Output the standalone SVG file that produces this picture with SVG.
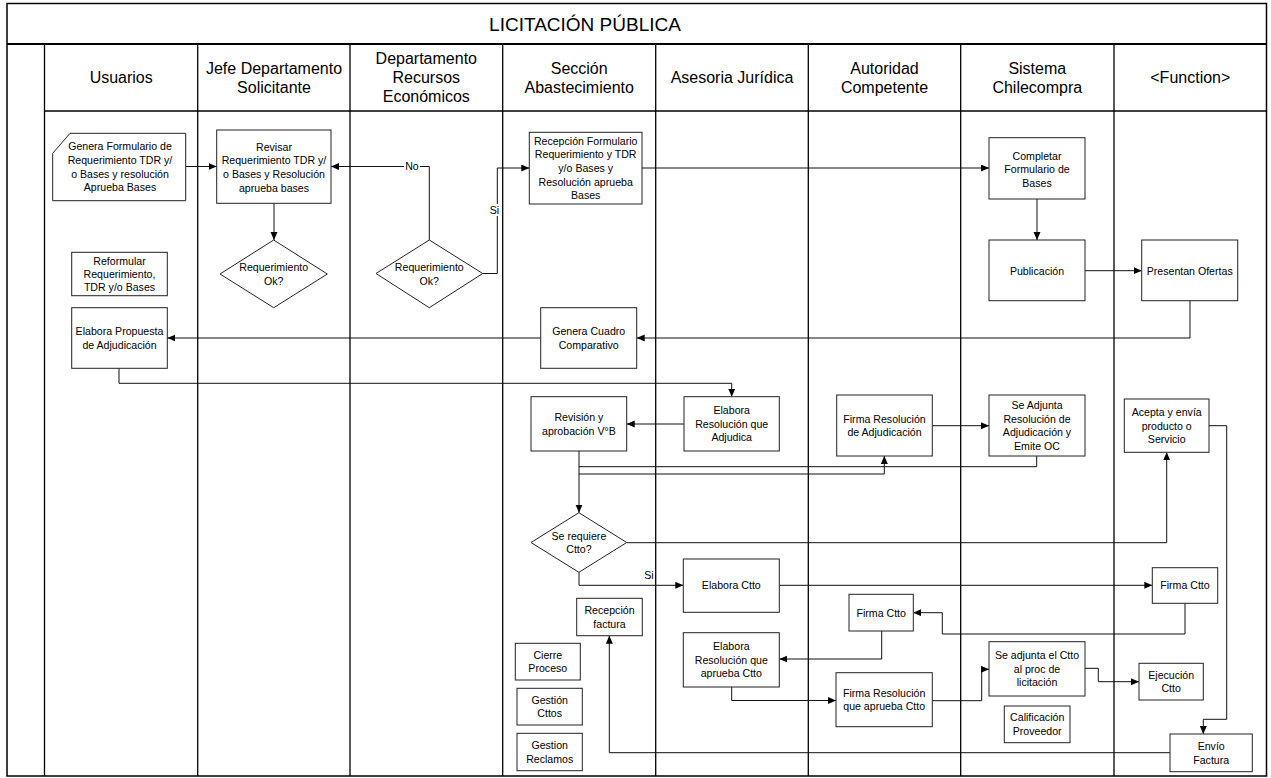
<svg xmlns="http://www.w3.org/2000/svg" width="1271" height="778" viewBox="0 0 1271 778">
<style>
text{font-family:"Liberation Sans",Arial,sans-serif;fill:#000}
.title{font-size:19px;text-anchor:middle}
.hdr{font-size:16px;text-anchor:middle}
.t{font-size:10.6px;text-anchor:middle}
.box{fill:#fff;stroke:#222;stroke-width:1}
.lane{stroke:#000;stroke-width:1.3;fill:none}
.c{fill:none;stroke:#111;stroke-width:1}
.ca{fill:none;stroke:#111;stroke-width:1;marker-end:url(#ah)}
.lbl{font-size:10.6px;text-anchor:middle}
</style>
<defs>
<marker id="ah" markerWidth="9" markerHeight="8" refX="8" refY="3.5" orient="auto" markerUnits="userSpaceOnUse">
<path d="M0,0 L8,3.5 L0,7 z" fill="#000"/>
</marker>
</defs>
<rect x="0" y="0" width="1271" height="778" fill="#fff"/>
<g id="frame">
<rect x="7" y="3.5" width="1259.5" height="772.5" fill="none" stroke="#000" stroke-width="1.5"/>
<line x1="7" y1="44" x2="1266.5" y2="44" stroke="#000" stroke-width="2.2"/>
<line class="lane" x1="44.5" y1="111" x2="1266.5" y2="111"/>
<line class="lane" x1="44.5" y1="44" x2="44.5" y2="776"/>
<line class="lane" x1="197.7" y1="44" x2="197.7" y2="776"/>
<line class="lane" x1="350" y1="44" x2="350" y2="776"/>
<line class="lane" x1="502.7" y1="44" x2="502.7" y2="776"/>
<line class="lane" x1="655.7" y1="44" x2="655.7" y2="776"/>
<line class="lane" x1="808.3" y1="44" x2="808.3" y2="776"/>
<line class="lane" x1="960.7" y1="44" x2="960.7" y2="776"/>
<line class="lane" x1="1114" y1="44" x2="1114" y2="776"/>
<text class="title" x="585" y="31">LICITACIÓN PÚBLICA</text>
<text class="hdr" x="121.2" y="83">Usuarios</text>
<text class="hdr" x="274" y="74">Jefe Departamento</text>
<text class="hdr" x="274" y="93">Solicitante</text>
<text class="hdr" x="426.3" y="64">Departamento</text>
<text class="hdr" x="426.3" y="83">Recursos</text>
<text class="hdr" x="426.3" y="102">Económicos</text>
<text class="hdr" x="579.2" y="74">Sección</text>
<text class="hdr" x="579.2" y="93">Abastecimiento</text>
<text class="hdr" x="732" y="83">Asesoria Jurídica</text>
<text class="hdr" x="884.5" y="74">Autoridad</text>
<text class="hdr" x="884.5" y="93">Competente</text>
<text class="hdr" x="1037.3" y="74">Sistema</text>
<text class="hdr" x="1037.3" y="93">Chilecompra</text>
<text class="hdr" x="1190.3" y="83">&lt;Function&gt;</text>
</g>
<g id="connectors">
<path class="ca" d="M185.7,166.5 H216.7"/>
<path class="ca" d="M429.3,240 V166.5 H331"/>
<path class="ca" d="M274,203.3 V240"/>
<path class="ca" d="M482.7,273.5 H497.3 V168 H529.3"/>
<path class="ca" d="M642,168 H989"/>
<path class="ca" d="M1037,199 V240"/>
<path class="ca" d="M1085,270.7 H1141.7"/>
<path class="ca" d="M1190,300.7 V338 H636.7"/>
<path class="ca" d="M540.7,338 H167.3"/>
<path class="ca" d="M119,368.3 V383.3 H731.7 V396.7"/>
<path class="ca" d="M684,424 H626.7"/>
<path class="ca" d="M579,451 V512.7"/>
<path class="ca" d="M579,474 H884.3 V456"/>
<path class="c" d="M1036.7,456 V466.7 H579"/>
<path class="ca" d="M932.3,425.7 H989"/>
<path class="ca" d="M626.7,542.7 H1166.7 V452.3"/>
<path class="ca" d="M579,572.3 V585.3 H683.3"/>
<path class="ca" d="M779.3,585.3 H1152.3"/>
<path class="ca" d="M1185,603.3 V634 H942.3 V612.7 H913.3"/>
<path class="ca" d="M881.7,631 V659 H779.3"/>
<path class="ca" d="M731.7,687 V700.5 H836"/>
<path class="ca" d="M932.3,700.7 H981.7 V669.3 H989"/>
<path class="ca" d="M1085,668.3 H1098.3 V681.7 H1139"/>
<path class="ca" d="M1209,425.7 H1226.7 V719.3 H1203.3 V734"/>
<path class="ca" d="M1170,752.7 H609.3 V635.7"/>
<rect x="404" y="161" width="16" height="11" fill="#fff"/>
<text class="lbl" x="412" y="170.3">No</text>
<rect x="490" y="204" width="10" height="12" fill="#fff"/>
<text class="lbl" x="494.5" y="214">Si</text>
<text class="lbl" x="649" y="579">Si</text>
</g>
<g id="n-genera">
<path class="box" d="M70,133.3 H185.7 V200.7 H52.7 V153.3 Z"/>
<text class="t" x="120" y="150.3">Genera Formulario de</text>
<text class="t" x="120" y="164">Requerimiento TDR y/</text>
<text class="t" x="120" y="177.6">o Bases y resolución</text>
<text class="t" x="120" y="191.3">Aprueba Bases</text>
</g>
<g id="n-revisar">
<rect class="box" x="216.7" y="130" width="114.3" height="73.3"/>
<text class="t" x="274" y="150.5">Revisar</text>
<text class="t" x="274" y="164.2">Requerimiento TDR y/</text>
<text class="t" x="274" y="177.8">o Bases y Resolución</text>
<text class="t" x="274" y="191.5">aprueba bases</text>
</g>
<g id="n-dec-jefe">
<path class="box" d="M273.7,240 L327.3,274 L273.7,307.7 L220,274 Z"/>
<text class="t" x="273.7" y="271.1">Requerimiento</text>
<text class="t" x="273.7" y="285.1">Ok?</text>
</g>
<g id="n-dec-depto">
<path class="box" d="M429.3,240 L482.7,273.5 L429.3,307.7 L376,273.5 Z"/>
<text class="t" x="429.3" y="271.1">Requerimiento</text>
<text class="t" x="429.3" y="285.1">Ok?</text>
</g>
<g id="n-recepcion-form">
<rect class="box" x="529.3" y="132.3" width="112.7" height="71.7"/>
<text class="t" x="585.7" y="144.5">Recepción Formulario</text>
<text class="t" x="585.7" y="158.2">Requerimiento y TDR</text>
<text class="t" x="585.7" y="171.9">y/o Bases y</text>
<text class="t" x="585.7" y="185.6">Resolución aprueba</text>
<text class="t" x="585.7" y="199.3">Bases</text>
</g>
<g id="n-completar">
<rect class="box" x="989" y="137.7" width="96" height="61.3"/>
<text class="t" x="1037" y="159.5">Completar</text>
<text class="t" x="1037" y="173.2">Formulario de</text>
<text class="t" x="1037" y="186.9">Bases</text>
</g>
<g id="n-publicacion">
<rect class="box" x="989" y="240" width="96" height="60.7"/>
<text class="t" x="1037" y="274.5">Publicación</text>
</g>
<g id="n-presentan">
<rect class="box" x="1141.7" y="240" width="96" height="60.7"/>
<text class="t" x="1189.7" y="274.5">Presentan Ofertas</text>
</g>
<g id="n-reformular">
<rect class="box" x="71.7" y="252.3" width="95.6" height="43.4"/>
<text class="t" x="119.5" y="264.5">Reformular</text>
<text class="t" x="119.5" y="277.8">Requerimiento,</text>
<text class="t" x="119.5" y="291.1">TDR y/o Bases</text>
</g>
<g id="n-propuesta">
<rect class="box" x="71.7" y="307.7" width="95.6" height="60.6"/>
<text class="t" x="119.5" y="335">Elabora Propuesta</text>
<text class="t" x="119.5" y="348.6">de Adjudicación</text>
</g>
<g id="n-cuadro">
<rect class="box" x="540.7" y="307.7" width="96" height="60.6"/>
<text class="t" x="588.7" y="335">Genera Cuadro</text>
<text class="t" x="588.7" y="348.6">Comparativo</text>
</g>
<g id="n-res-adjudica">
<rect class="box" x="684" y="396.7" width="95.3" height="54.3"/>
<text class="t" x="731.7" y="414">Elabora</text>
<text class="t" x="731.7" y="427.7">Resolución que</text>
<text class="t" x="731.7" y="441.4">Adjudica</text>
</g>
<g id="n-revision">
<rect class="box" x="531" y="396.7" width="95.7" height="54.3"/>
<text class="t" x="578.9" y="420.8">Revisión y</text>
<text class="t" x="578.9" y="434.5">aprobación V°B</text>
</g>
<g id="n-firma-res-adj">
<rect class="box" x="836.7" y="395" width="95.6" height="61"/>
<text class="t" x="884.5" y="422.5">Firma Resolución</text>
<text class="t" x="884.5" y="436.1">de Adjudicación</text>
</g>
<g id="n-se-adjunta">
<rect class="box" x="989" y="395" width="96" height="61"/>
<text class="t" x="1037" y="408.8">Se Adjunta</text>
<text class="t" x="1037" y="422.5">Resolución de</text>
<text class="t" x="1037" y="436.1">Adjudicación y</text>
<text class="t" x="1037" y="449.8">Emite OC</text>
</g>
<g id="n-acepta">
<rect class="box" x="1124.3" y="399" width="84.7" height="53.3"/>
<text class="t" x="1166.7" y="415.8">Acepta y envía</text>
<text class="t" x="1166.7" y="429.5">producto o</text>
<text class="t" x="1166.7" y="443.2">Servicio</text>
</g>
<g id="n-dec-ctto">
<path class="box" d="M578.9,512.7 L626.7,542.5 L578.9,572.3 L531,542.5 Z"/>
<text class="t" x="578.9" y="539.5">Se requiere</text>
<text class="t" x="578.9" y="553.1">Ctto?</text>
</g>
<g id="n-elabora-ctto">
<rect class="box" x="683.3" y="559" width="96" height="53.3"/>
<text class="t" x="731.3" y="589.3">Elabora Ctto</text>
</g>
<g id="n-firma-ctto-fn">
<rect class="box" x="1152.3" y="567.7" width="65.4" height="35.6"/>
<text class="t" x="1185" y="589.3">Firma Ctto</text>
</g>
<g id="n-firma-ctto-aut">
<rect class="box" x="849" y="594.3" width="64.3" height="36.7"/>
<text class="t" x="881.2" y="616.5">Firma Ctto</text>
</g>
<g id="n-res-aprueba-ctto">
<rect class="box" x="683.3" y="632.7" width="96" height="54.3"/>
<text class="t" x="731.3" y="650">Elabora</text>
<text class="t" x="731.3" y="663.7">Resolución que</text>
<text class="t" x="731.3" y="677.4">aprueba Ctto</text>
</g>
<g id="n-firma-res-ctto">
<rect class="box" x="836" y="672.7" width="96.3" height="54"/>
<text class="t" x="884.2" y="696.7">Firma Resolución</text>
<text class="t" x="884.2" y="710.3">que aprueba Ctto</text>
</g>
<g id="n-adjunta-ctto">
<rect class="box" x="989" y="641.7" width="96" height="54.3"/>
<text class="t" x="1037" y="659">Se adjunta el Ctto</text>
<text class="t" x="1037" y="672.7">al proc de</text>
<text class="t" x="1037" y="686.4">licitación</text>
</g>
<g id="n-ejecucion">
<rect class="box" x="1139" y="663.3" width="64.3" height="36.7"/>
<text class="t" x="1171.2" y="678.7">Ejecución</text>
<text class="t" x="1171.2" y="692.3">Ctto</text>
</g>
<g id="n-calificacion">
<rect class="box" x="1004.3" y="706" width="65.7" height="36.7"/>
<text class="t" x="1037.2" y="721.3">Calificación</text>
<text class="t" x="1037.2" y="735">Proveedor</text>
</g>
<g id="n-envio">
<rect class="box" x="1170" y="734" width="82.3" height="37.7"/>
<text class="t" x="1211.2" y="749.8">Envío</text>
<text class="t" x="1211.2" y="763.5">Factura</text>
</g>
<g id="n-recepcion-factura">
<rect class="box" x="576.7" y="598.3" width="65.6" height="37.4"/>
<text class="t" x="609.5" y="614">Recepción</text>
<text class="t" x="609.5" y="627.6">factura</text>
</g>
<g id="n-cierre">
<rect class="box" x="515.3" y="643.3" width="65" height="36.7"/>
<text class="t" x="547.8" y="658.7">Cierre</text>
<text class="t" x="547.8" y="672.3">Proceso</text>
</g>
<g id="n-gestion-cttos">
<rect class="box" x="517" y="688.3" width="65.3" height="36.7"/>
<text class="t" x="549.7" y="703.7">Gestión</text>
<text class="t" x="549.7" y="717.3">Cttos</text>
</g>
<g id="n-gestion-reclamos">
<rect class="box" x="517" y="733.3" width="65.3" height="37.4"/>
<text class="t" x="549.7" y="749">Gestion</text>
<text class="t" x="549.7" y="762.6">Reclamos</text>
</g>
</svg>
